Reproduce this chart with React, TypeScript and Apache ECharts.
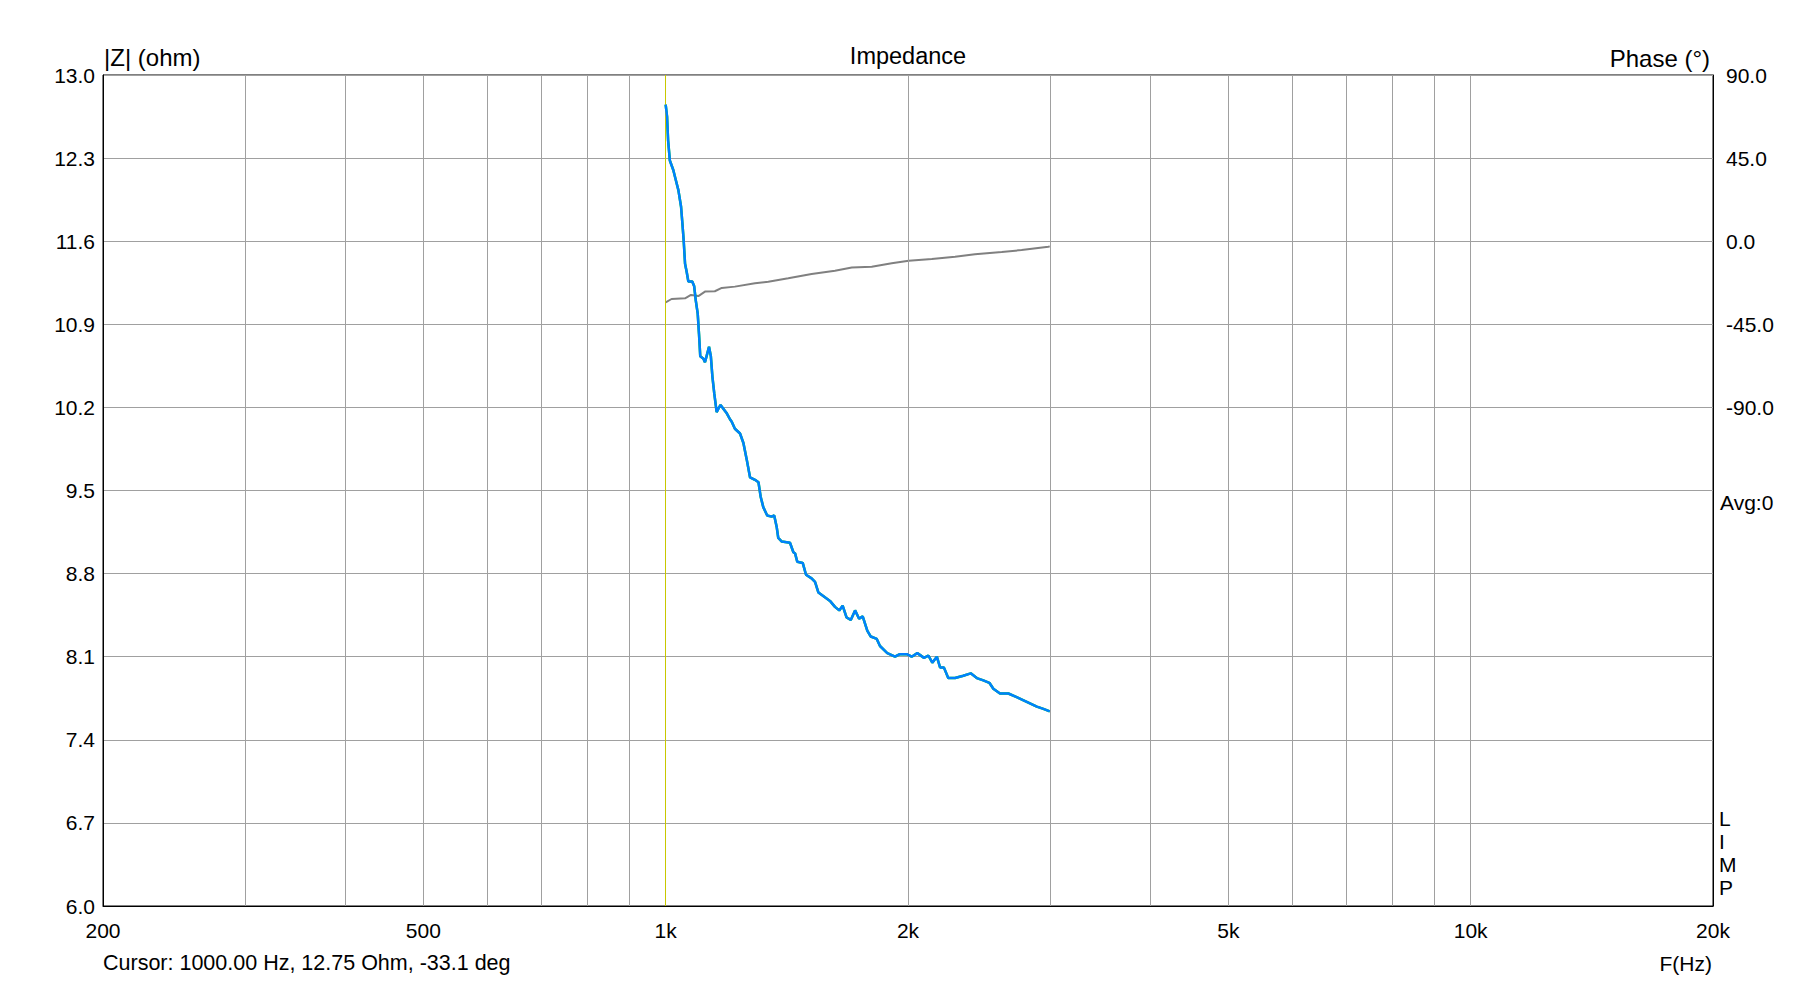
import React, { useEffect, useRef } from "react";
import * as echarts from "echarts";

// Impedance magnitude (|Z|, ohm) vs frequency (Hz)
const magFreq = [
  1000, 1004, 1007, 1012, 1022, 1029, 1037, 1045, 1049, 1053, 1057, 1062, 1067, 1079, 1085, 1090,
  1096, 1100, 1104, 1114, 1119, 1124, 1132, 1138, 1143, 1149, 1157, 1165, 1170, 1185, 1191, 1202,
  1208, 1219, 1237, 1249, 1261, 1273, 1291, 1304, 1312, 1322, 1337, 1354, 1364, 1374, 1380, 1394,
  1427, 1441, 1448, 1457, 1480, 1494, 1518, 1533, 1548, 1577, 1600, 1623, 1643, 1659, 1678, 1698,
  1719, 1739, 1757, 1780, 1798, 1829, 1846, 1885, 1927, 1951, 1974, 1996, 2021, 2054, 2094, 2120,
  2144, 2172, 2192, 2216, 2244, 2288, 2343, 2393, 2435, 2481, 2524, 2553, 2602, 2665, 2729, 2809,
  2891, 2946, 3000,
];
const magOhm = [
  12.75, 12.65, 12.45, 12.28, 12.2, 12.12, 12.03, 11.89, 11.75, 11.6, 11.41, 11.34, 11.26, 11.26, 11.22, 11.1,
  10.99, 10.82, 10.63, 10.61, 10.58, 10.63, 10.71, 10.63, 10.46, 10.32, 10.16, 10.2, 10.22, 10.17, 10.15, 10.1,
  10.08, 10.02, 9.98, 9.9, 9.76, 9.61, 9.59, 9.57, 9.45, 9.36, 9.29, 9.28, 9.29, 9.19, 9.1, 9.07,
  9.06, 8.98, 8.97, 8.9, 8.89, 8.79, 8.76, 8.73, 8.64, 8.6, 8.57, 8.52, 8.49, 8.53, 8.43, 8.41,
  8.49, 8.42, 8.44, 8.32, 8.27, 8.25, 8.19, 8.13, 8.1, 8.12, 8.12, 8.12, 8.1, 8.13, 8.09, 8.11,
  8.05, 8.1, 8.01, 8.01, 7.92, 7.92, 7.94, 7.96, 7.92, 7.9, 7.88, 7.83, 7.79, 7.79, 7.76, 7.72,
  7.68, 7.66, 7.64,
];

// Phase (degrees) vs frequency (Hz)
const phaseFreq = [
  1000, 1017, 1057, 1075, 1098, 1119, 1151, 1174, 1219, 1291, 1341, 1420, 1518, 1623, 1703, 1803,
  1909, 2004, 2141, 2288, 2422, 2615, 2768, 2988, 3000,
];
const phaseDeg = [
  -33.1, -31.3, -30.9, -29.1, -29.7, -27.3, -27.1, -25.3, -24.6, -22.8, -21.9, -20.1, -17.8, -16.0, -14.3, -13.8,
  -12.0, -10.6, -9.6, -8.4, -7.1, -5.8, -4.8, -3.0, -2.8,
];

// Axis ticks
const freqLabels = [200, 500, 1000, 2000, 5000, 10000, 20000];
const freqGrid = [300, 400, 500, 600, 700, 800, 900, 1000, 2000, 3000, 4000, 5000, 6000, 7000, 8000, 9000, 10000];
const ohmMin = 6.0;
const ohmStep = 0.7;
const ohmSteps = 10;
const phaseMin = -360;
const phaseMax = 90;
const phaseStep = 45;
const cursorFreq = 1000;
const cursorText = "Cursor: 1000.00 Hz, 12.75 Ohm, -33.1 deg";

const FONT = "'Liberation Sans', Arial, sans-serif";

export default function App() {
  const ref = useRef<HTMLDivElement>(null);

  useEffect(() => {
    if (!ref.current) return;
    const chart = echarts.init(ref.current, undefined, { renderer: "svg" });

    const magData = magFreq.map((f, i) => [f, magOhm[i]]);
    const phaseData = phaseFreq.map((f, i) => [f, phaseDeg[i]]);

    const txt = (text: string, x: number, y: number, align: string, size = 21) => ({
      type: "text",
      x,
      y,
      silent: true,
      style: {
        text,
        fill: "#000",
        font: `${size}px ${FONT}`,
        textAlign: align,
        textVerticalAlign: "middle",
      },
    });

    chart.setOption({
      animation: false,
      backgroundColor: "#fff",
      textStyle: { fontFamily: FONT },
      grid: {
        left: 103,
        right: 101,
        top: 75,
        bottom: 75,
        containLabel: false,
        show: true,
        borderColor: "#000",
        borderWidth: 1,
        backgroundColor: "transparent",
      },
      xAxis: {
        type: "log",
        logBase: 10,
        min: 200,
        max: 20000,
        axisLine: { show: true, lineStyle: { color: "#000", width: 1 } },
        axisTick: { show: false },
        splitLine: { show: false },
        minorSplitLine: { show: false },
        axisLabel: {
          customValues: freqLabels,
          formatter: (v: number) => (v >= 1000 ? `${Math.round(v / 1000)}k` : `${Math.round(v)}`),
          color: "#000",
          fontSize: 21,
          fontFamily: FONT,
          margin: 14,
          showMinLabel: true,
          showMaxLabel: true,
        },
      },
      yAxis: [
        {
          type: "value",
          min: ohmMin,
          max: ohmMin + ohmStep * ohmSteps,
          show: false,
          position: "left",
        },
        {
          type: "value",
          min: 0,
          max: ohmSteps,
          interval: 1,
          position: "left",
          axisLine: { show: true, lineStyle: { color: "#000", width: 1 } },
          axisTick: { show: false },
          splitLine: { show: true, lineStyle: { color: "#a0a0a0", width: 1 } },
          axisLabel: {
            formatter: (v: number) => (ohmMin + v * ohmStep).toFixed(1),
            color: "#000",
            fontSize: 21,
            fontFamily: FONT,
            margin: 8,
          },
        },
        {
          type: "value",
          min: phaseMin,
          max: phaseMax,
          interval: phaseStep,
          position: "right",
          axisLine: { show: true, lineStyle: { color: "#000", width: 1 } },
          axisTick: { show: false },
          splitLine: { show: false },
          axisLabel: {
            formatter: (v: number) => (v >= -90 ? v.toFixed(1) : ""),
            color: "#000",
            fontSize: 21,
            fontFamily: FONT,
            margin: 13,
          },
        },
      ],
      series: [
        {
          type: "line",
          name: "grid",
          xAxisIndex: 0,
          yAxisIndex: 0,
          data: [],
          z: 1,
          silent: true,
          markLine: {
            silent: true,
            symbol: ["none", "none"],
            label: { show: false },
            lineStyle: { color: "#a0a0a0", width: 1, type: "solid" },
            data: freqGrid.filter((f) => f !== cursorFreq).map((f) => ({ xAxis: f })),
          },
        },
        {
          type: "line",
          name: "cursor",
          xAxisIndex: 0,
          yAxisIndex: 0,
          data: [],
          z: 2,
          silent: true,
          markLine: {
            silent: true,
            symbol: ["none", "none"],
            label: { show: false },
            lineStyle: { color: "#c8c800", width: 1, type: "solid" },
            data: [{ xAxis: cursorFreq }],
          },
        },
        {
          type: "line",
          name: "Phase",
          xAxisIndex: 0,
          yAxisIndex: 2,
          data: phaseData,
          showSymbol: false,
          symbol: "none",
          lineStyle: { color: "#808080", width: 2 },
          itemStyle: { color: "#808080" },
          z: 3,
        },
        {
          type: "line",
          name: "|Z| ref",
          xAxisIndex: 0,
          yAxisIndex: 0,
          data: magData,
          showSymbol: false,
          symbol: "none",
          lineStyle: { color: "#00e000", width: 2.5 },
          itemStyle: { color: "#00e000" },
          z: 4,
        },
        {
          type: "line",
          name: "|Z|",
          xAxisIndex: 0,
          yAxisIndex: 0,
          data: magData,
          showSymbol: false,
          symbol: "none",
          lineStyle: { color: "#0080ff", width: 2.5 },
          itemStyle: { color: "#0080ff" },
          z: 5,
        },
      ],
      graphic: [
        txt("|Z| (ohm)", 104, 57, "left", 24),
        txt("Impedance", 908, 56, "center", 23.5),
        txt("Phase (°)", 1710, 58, "right", 24),
        txt("Avg:0", 1720, 502, "left"),
        txt("L", 1719, 818, "left"),
        txt("I", 1719, 841, "left"),
        txt("M", 1719, 864, "left"),
        txt("P", 1719, 887, "left"),
        txt(cursorText, 103, 963, "left", 21.5),
        txt("F(Hz)", 1712, 963, "right"),
      ],
    });

    return () => chart.dispose();
  }, []);

  return (
    <div
      ref={ref}
      style={{ position: "fixed", left: 0, top: 0, width: 1814, height: 981, background: "#fff" }}
    />
  );
}
